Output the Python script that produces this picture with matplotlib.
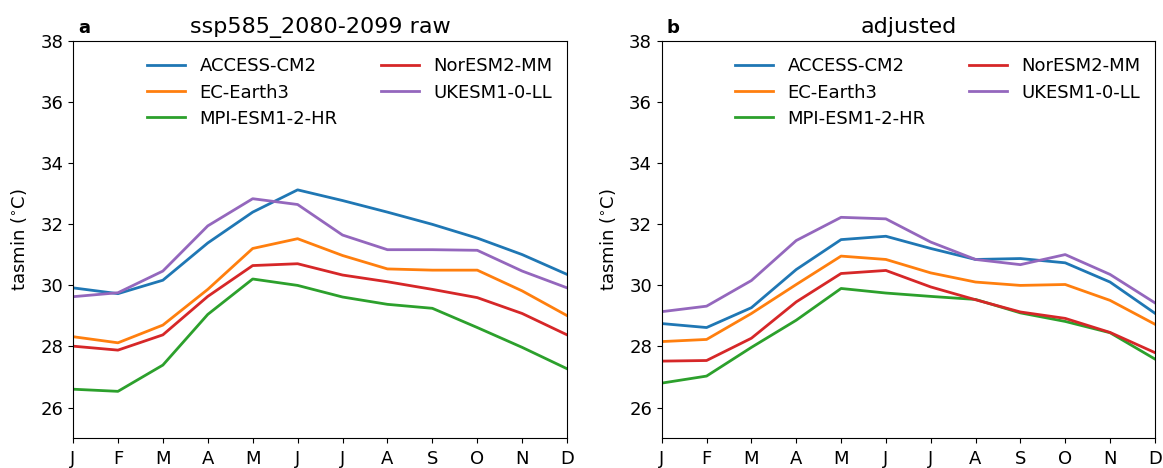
import numpy as np
import matplotlib
matplotlib.use("Agg")
import matplotlib.pyplot as plt

months = ["J", "F", "M", "A", "M", "J", "J", "A", "S", "O", "N", "D"]
models = ["ACCESS-CM2", "EC-Earth3", "MPI-ESM1-2-HR", "NorESM2-MM", "UKESM1-0-LL"]

raw_access = [29.92, 29.73, 30.17, 31.39, 32.40, 33.13, 32.78, 32.40, 32.00, 31.55, 31.01, 30.36]
raw_ecearth = [28.32, 28.12, 28.70, 29.87, 31.21, 31.53, 30.98, 30.54, 30.50, 30.50, 29.82, 29.01]
raw_mpi = [26.60, 26.53, 27.39, 29.05, 30.21, 30.00, 29.62, 29.38, 29.25, 28.62, 27.97, 27.27]
raw_noresm = [28.01, 27.88, 28.38, 29.64, 30.65, 30.71, 30.34, 30.12, 29.87, 29.60, 29.08, 28.38]
raw_ukesm = [29.63, 29.76, 30.47, 31.95, 32.84, 32.65, 31.65, 31.17, 31.17, 31.15, 30.47, 29.92]

adj_access = [28.75, 28.62, 29.27, 30.52, 31.50, 31.61, 31.21, 30.85, 30.88, 30.74, 30.11, 29.09]
adj_ecearth = [28.16, 28.23, 29.08, 30.03, 30.96, 30.85, 30.41, 30.11, 30.00, 30.03, 29.51, 28.73]
adj_mpi = [26.80, 27.03, 27.97, 28.86, 29.90, 29.75, 29.64, 29.54, 29.10, 28.82, 28.45, 27.59]
adj_noresm = [27.52, 27.54, 28.27, 29.46, 30.39, 30.49, 29.95, 29.53, 29.13, 28.92, 28.46, 27.80]
adj_ukesm = [29.14, 29.32, 30.16, 31.47, 32.23, 32.18, 31.42, 30.85, 30.68, 31.01, 30.36, 29.43]

raw = [raw_access, raw_ecearth, raw_mpi, raw_noresm, raw_ukesm]
adj = [adj_access, adj_ecearth, adj_mpi, adj_noresm, adj_ukesm]
colors = ["C0", "C1", "C2", "C3", "C4"]

plt.rcParams["font.size"] = 13

fig = plt.figure(figsize=(11.63, 4.68), dpi=100)
ax1 = fig.add_axes([0.0628, 0.064, 0.4248, 0.848])
ax2 = fig.add_axes([0.569, 0.064, 0.424, 0.848])

x = np.arange(12)
for ax, data, title, letter in [(ax1, raw, "ssp585_2080-2099 raw", "a"),
                                (ax2, adj, "adjusted", "b")]:
    for vals, name, c in zip(data, models, colors):
        ax.plot(x, vals, color=c, lw=2, label=name)
    ax.set_xlim(0, 11)
    ax.set_ylim(25, 38)
    ax.set_yticks([26, 28, 30, 32, 34, 36, 38])
    ax.set_xticks(x)
    ax.set_xticklabels(months)
    ax.tick_params(axis="x", pad=5)
    ax.set_ylabel(r"tasmin ($^{\circ}$C)", labelpad=8)
    ax.set_title(title, fontsize=16, pad=6)
    ax.text(0.01, 1.01, letter, transform=ax.transAxes, fontweight="bold",
            fontsize=13, va="bottom", ha="left")
    ax.legend(ncol=2, frameon=False, loc="upper center",
              bbox_to_anchor=(0.56, 1.0), fontsize=13,
              handlelength=2.1, columnspacing=2.4, labelspacing=0.45)

fig.savefig("out.png", dpi=100)
